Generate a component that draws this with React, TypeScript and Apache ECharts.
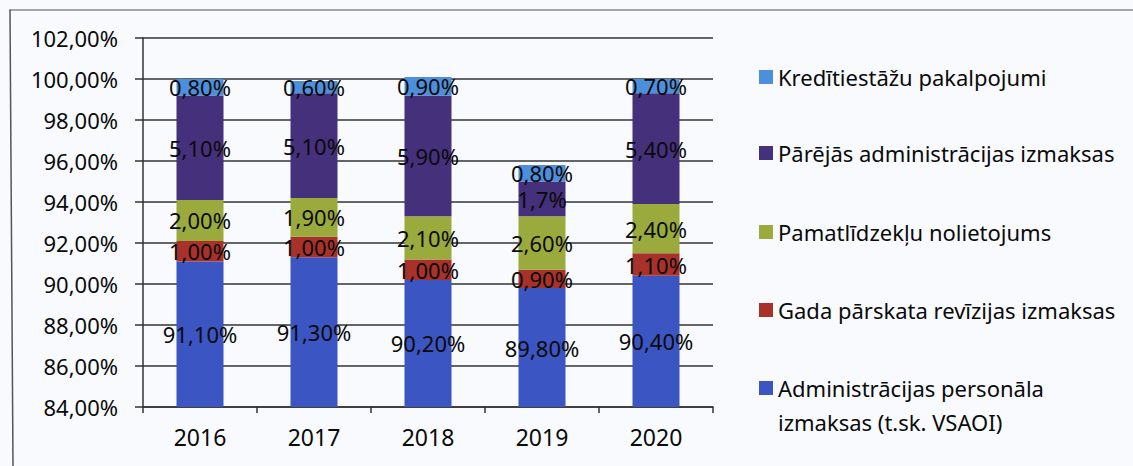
import React, { useEffect, useRef } from "react";
import * as echarts from "echarts";

const years = ["2016", "2017", "2018", "2019", "2020"];
const personnel = [91.1, 91.3, 90.2, 89.8, 90.4];
const audit = [1.0, 1.0, 1.0, 0.9, 1.1];
const depreciation = [2.0, 1.9, 2.1, 2.6, 2.4];
const otherAdmin = [5.1, 5.1, 5.9, 1.7, 5.4];
const bankServices = [0.8, 0.6, 0.9, 0.8, 0.7];
const otherAdminLabels = ["5,10%", "5,10%", "5,90%", "1,7%", "5,40%"];
const yTicks = [84, 86, 88, 90, 92, 94, 96, 98, 100, 102];

const names = {
  personnel: "Administrācijas personāla izmaksas (t.sk. VSAOI)",
  audit: "Gada pārskata revīzijas izmaksas",
  depreciation: "Pamatlīdzekļu nolietojums",
  otherAdmin: "Pārējās administrācijas izmaksas",
  bank: "Kredītiestāžu pakalpojumi",
};

const colors = {
  personnel: "#3b55c2",
  audit: "#a8312a",
  depreciation: "#9aaa3c",
  otherAdmin: "#45307c",
  bank: "#4c8fdc",
};

const FONT = "Noto Sans";
const TEXT = "#0a0a0a";

const fmt = (v: number) => v.toFixed(2).replace(".", ",") + "%";

export default function App() {
  const ref = useRef<HTMLDivElement>(null);
  useEffect(() => {
    if (!ref.current) return;
    const chart = echarts.init(ref.current, null, { renderer: "svg" });
    const label = (custom?: string[]) => ({
      show: true,
      position: "inside" as const,
      color: TEXT,
      fontFamily: FONT,
      fontSize: 22,
      formatter: (p: any) => (custom ? custom[p.dataIndex] : fmt(p.value)),
    });
    const mk = (key: keyof typeof names, data: number[], custom?: string[]) => ({
      name: names[key],
      type: "bar",
      stack: "total",
      barWidth: 47,
      data,
      itemStyle: { color: colors[key] },
      label: label(custom),
    });
    const legendCommon = {
      left: 754,
      orient: "vertical" as const,
      itemWidth: 14,
      itemHeight: 14,
      itemGap: 0,
      textStyle: { fontFamily: FONT, fontSize: 22, color: TEXT, lineHeight: 26 },
    };
    const sq = "path://M0,0L14,0L14,14L0,14Z";
    chart.setOption({
      animation: false,
      backgroundColor: "#f8fafd",
      graphic: [
        {
          type: "line",
          shape: { x1: 9, y1: 10, x2: 1133, y2: 10 },
          style: { stroke: "#888", lineWidth: 1.5 },
          silent: true,
        },
        {
          type: "line",
          shape: { x1: 10, y1: 10, x2: 13, y2: 466 },
          style: { stroke: "#555", lineWidth: 1.5 },
          silent: true,
        },
      ],
      legend: [
        { ...legendCommon, top: 59, data: [{ name: names.bank, icon: sq }] },
        { ...legendCommon, top: 135, data: [{ name: names.otherAdmin, icon: sq }] },
        { ...legendCommon, top: 214, data: [{ name: names.depreciation, icon: sq }] },
        { ...legendCommon, top: 292, data: [{ name: names.audit, icon: sq }] },
        {
          ...legendCommon,
          top: 366,
          itemHeight: 48,
          textStyle: { fontFamily: FONT, fontSize: 22, color: TEXT, lineHeight: 34 },
          formatter: () => "Administrācijas personāla\nizmaksas (t.sk. VSAOI)",
          data: [{ name: names.personnel, icon: "path://M0,0L14,0L14,14L0,14Z M0,48L0.05,48" }],
        },
      ],
      grid: { left: 143, right: 420, top: 38, bottom: 59 },
      xAxis: {
        type: "category",
        data: years,
        axisLine: { show: true, lineStyle: { color: "#333", width: 1.5 } },
        axisTick: { show: true, length: 6, lineStyle: { color: "#333", width: 1.5 } },
        axisLabel: { fontFamily: FONT, fontSize: 23, color: TEXT, margin: 18 },
      },
      yAxis: {
        type: "value",
        min: yTicks[0],
        max: yTicks[yTicks.length - 1],
        interval: 2,
        axisLine: { show: true, lineStyle: { color: "#333", width: 1.5 } },
        axisTick: { show: true, length: 8, lineStyle: { color: "#333", width: 1.5 } },
        splitLine: { show: true, lineStyle: { color: "#333", width: 1.5 } },
        axisLabel: {
          fontFamily: FONT,
          fontSize: 22,
          color: TEXT,
          margin: 25,
          formatter: (v: number) => fmt(v),
        },
      },
      series: [
        mk("personnel", personnel),
        mk("audit", audit),
        mk("depreciation", depreciation),
        mk("otherAdmin", otherAdmin, otherAdminLabels),
        mk("bank", bankServices),
      ],
    });
    return () => chart.dispose();
  }, []);
  return (
    <div
      ref={ref}
      style={{ position: "fixed", left: 0, top: 0, width: 1133, height: 466 }}
    />
  );
}
